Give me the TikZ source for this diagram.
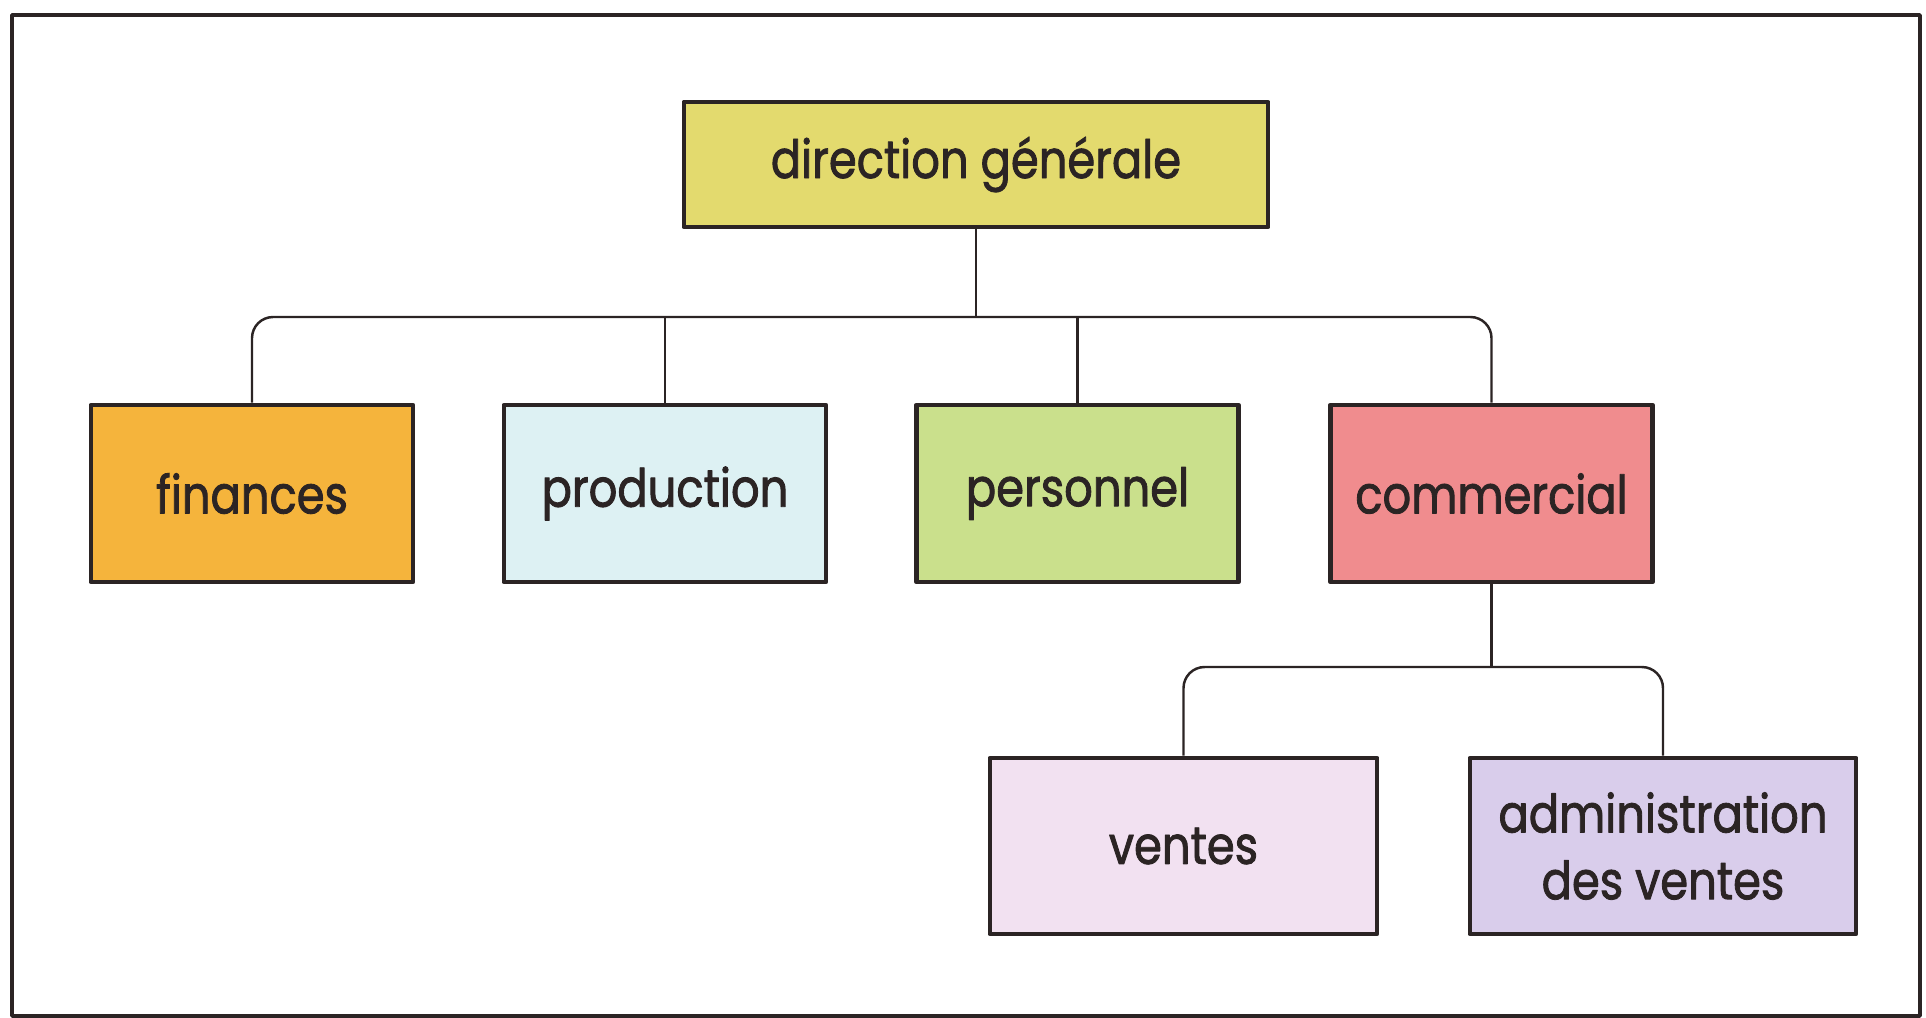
\documentclass[tikz,border=0pt]{standalone}
\usepackage{fontspec}
\setmainfont{Poppins}[FakeStretch=0.85, FakeBold=1.6]
\definecolor{dircol}{HTML}{E3DA6E}
\definecolor{fincol}{HTML}{F5B43C}
\definecolor{prodcol}{HTML}{DDF1F3}
\definecolor{perscol}{HTML}{CAE08C}
\definecolor{comcol}{HTML}{F08C8E}
\definecolor{ventcol}{HTML}{F2E1F1}
\definecolor{admcol}{HTML}{D9CDEB}
\definecolor{ink}{HTML}{2B2424}
\begin{document}
\begin{tikzpicture}[line join=round, font=\fontsize{15}{19}\selectfont, x=0.01cm, y=-0.01cm]
	\tikzset{box/.style={draw=ink, line width=1.3pt, text=ink, align=center, minimum width=3.22cm, minimum height=1.77cm},
	link/.style={draw=ink, line width=.7pt, rounded corners=6pt}}
	\useasboundingbox (0,0) rectangle (1926,1018);
	\draw[ink, line width=1pt] (12,15) rectangle (1920,1016);
	\node[box, fill=dircol, minimum width=5.84cm, minimum height=1.25cm] (dir) at (976,164.5) {direction générale};
	\node[box, fill=fincol] (fin) at (252,493.5) {finances};
	\node[box, fill=prodcol] (prod) at (665,493.5) {production};
	\node[box, fill=perscol] (pers) at (1077.5,493.5) {personnel};
	\node[box, fill=comcol] (com) at (1491.5,493.5) {commercial};
	\node[box, fill=ventcol, minimum width=3.87cm, minimum height=1.76cm] (vent) at (1183.5,846) {ventes};
	\node[box, fill=admcol, minimum width=3.86cm, minimum height=1.76cm] (adm) at (1663,846) {administration\\des ventes};
	\coordinate (bus) at (976,317);
	\coordinate (subbus) at (1491.5,667);
	\draw[link] (dir.south) -- (bus);
	\draw[link] (fin.north) |- (bus) -| (com.north);
	\draw[link] (prod.north) -- (prod.north |- bus);
	\draw[link] (pers.north) -- (pers.north |- bus);
	\draw[link] (com.south) -- (subbus);
	\draw[link] (vent.north) |- (subbus) -| (adm.north);
\end{tikzpicture}
\end{document}
